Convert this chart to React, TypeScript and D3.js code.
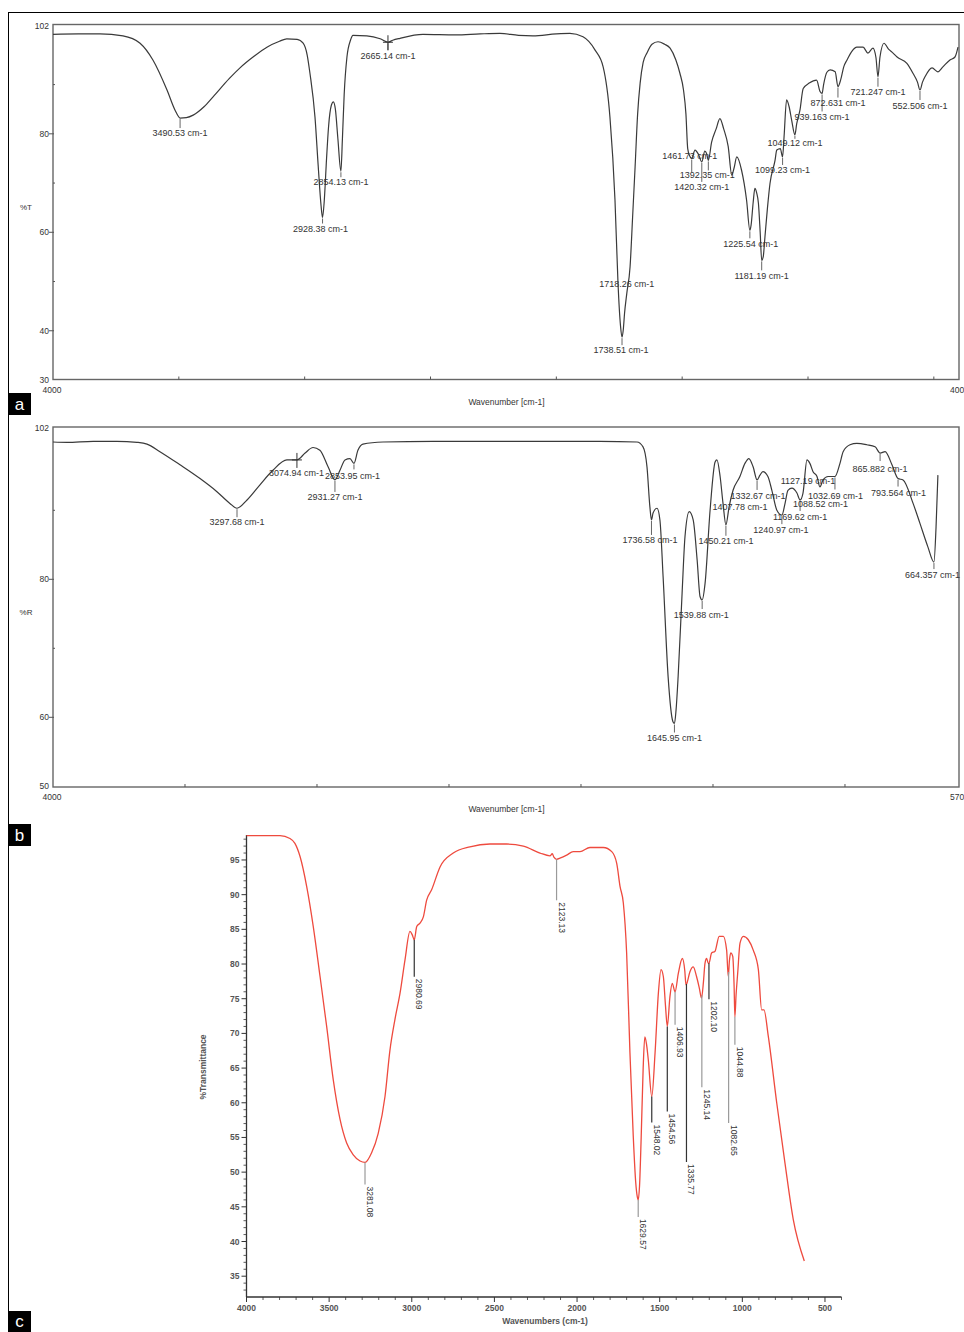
import React from 'react';
import * as d3 from 'd3';

// ---------- data: [wavenumber cm-1, %] ----------
const SPEC_A: [number, number][] = [
  [4000,100.2],[3900,100.3],[3813,100.3],[3722,99.9],[3654,98.4],[3603,95.0],[3547,88.9],[3515,84.8],[3495,83.2],[3470,83.3],
  [3443,83.8],[3400,85.5],[3364,87.5],[3300,91.2],[3257,93.4],[3200,95.8],[3150,97.6],[3100,98.8],[3071,99.3],[3030,99.2],
  [3006,98.4],[2990,96.0],[2979,92.3],[2959,83.4],[2946,73.3],[2935,65.5],[2929,63.0],[2922,66.5],[2913,75.0],[2905,81.5],
  [2894,85.8],[2886,86.5],[2878,85.0],[2868,79.0],[2856,72.4],[2850,79.0],[2843,88.0],[2832,95.6],[2818,99.0],[2808,100.0],
  [2753,99.9],[2700,99.3],[2669,98.6],[2650,99.0],[2621,99.4],[2530,100.2],[2400,100.1],[2303,100.3],[2224,100.4],[2150,100.0],
  [2093,99.9],[2000,100.3],[1946,100.4],[1894,99.7],[1846,97.0],[1814,93.6],[1787,83.4],[1767,66.6],[1755,49.7],[1745,41.0],
  [1739,38.7],[1734,40.2],[1729,43.5],[1720,47.6],[1707,53.0],[1697,63.0],[1687,73.3],[1677,84.0],[1667,90.3],[1655,94.5],
  [1640,96.4],[1620,98.2],[1596,98.7],[1570,98.2],[1548,97.4],[1525,95.0],[1509,92.3],[1495,89.0],[1485,84.0],[1478,77.0],
  [1470,75.5],[1462,75.0],[1449,76.7],[1435,75.8],[1422,74.3],[1410,76.5],[1403,76.0],[1396,74.6],[1383,78.3],[1365,81.0],
  [1350,83.1],[1335,81.0],[1317,77.4],[1303,71.6],[1294,73.0],[1283,75.3],[1264,72.6],[1244,66.5],[1231,60.4],[1226,61.5],
  [1218,66.0],[1211,68.9],[1204,68.0],[1197,65.9],[1190,60.0],[1184,54.3],[1178,55.0],[1171,59.1],[1161,65.0],[1151,69.9],
  [1131,74.6],[1124,76.7],[1110,77.0],[1101,75.3],[1095,79.5],[1085,86.9],[1075,85.5],[1065,82.8],[1052,79.8],[1045,82.0],
  [1032,84.8],[1019,89.2],[995,90.3],[966,90.9],[952,88.6],[944,88.2],[938,90.0],[925,92.5],[912,93.0],[892,92.6],
  [881,89.6],[870,91.0],[858,93.6],[845,95.0],[825,96.8],[806,97.6],[781,97.6],[762,96.4],[742,97.4],[730,95.5],
  [722,91.6],[714,95.6],[698,98.4],[680,97.2],[662,96.4],[646,95.6],[607,94.3],[583,92.3],[565,90.5],[555,88.9],
  [545,90.5],[535,91.6],[507,93.4],[484,92.6],[464,93.6],[436,95.0],[416,95.6],[404,97.6]
];

const SPEC_B: [number, number][] = [
  [4000,99.9],[3947,99.85],[3848,100],[3758,100],[3682,99.85],[3644,99.6],[3595,98.5],[3519,96.6],[3443,94.6],[3379,92.7],
  [3330,91.0],[3303,90.3],[3265,91.5],[3216,93.7],[3167,95.8],[3114,97.3],[3076,97.3],[3045,98.3],[3015,99.1],[2989,98.7],
  [2958,96.3],[2932,94.4],[2913,95.8],[2894,97.3],[2875,97.5],[2860,96.8],[2845,98.7],[2826,99.6],[2750,99.9],[2560,100],
  [2383,100],[1928,100],[1788,99.9],[1765,99.2],[1750,96.3],[1739,90.5],[1733,88.6],[1727,89.6],[1712,90.3],[1701,88.6],
  [1689,80.4],[1670,65.9],[1652,59.4],[1646,59.1],[1640,61.0],[1632,65.9],[1617,78.0],[1606,86.2],[1590,89.8],[1575,88.6],
  [1560,82.8],[1549,77.5],[1541,77.0],[1530,79.4],[1511,90.0],[1492,97.0],[1485,97.3],[1473,94.9],[1462,91.0],[1451,87.9],
  [1439,90.5],[1424,92.9],[1398,94.9],[1379,96.8],[1364,97.5],[1348,96.3],[1333,94.4],[1322,95.1],[1311,95.6],[1292,94.9],
  [1277,92.9],[1258,90.0],[1239,89.3],[1227,91.0],[1216,92.9],[1201,93.2],[1182,92.5],[1170,91.5],[1159,92.5],[1144,97.3],
  [1133,96.8],[1121,95.6],[1106,94.9],[1095,93.4],[1083,94.4],[1064,94.9],[1038,94.9],[1019,96.8],[1007,98.5],[981,99.5],
  [955,99.7],[917,99.5],[886,99.2],[867,98.3],[848,98.5],[822,96.6],[799,94.6],[780,94.4],[742,91.0],[716,88.1],
  [686,84.7],[663,82.5],[655,87.6],[648,95.1]
];

const SPEC_C: [number, number][] = [
  [4000,98.5],[3900,98.5],[3797,98.5],[3737,98.1],[3707,97.4],[3676,95.5],[3636,91.2],[3596,85.4],[3555,78.2],[3515,71.0],
  [3475,63.3],[3434,57.6],[3394,54.2],[3354,52.5],[3313,51.6],[3283,51.4],[3243,52.8],[3203,55.6],[3162,60.9],[3132,67.6],
  [3102,72.0],[3071,75.8],[3041,80.6],[3011,84.7],[2997,84.2],[2985,83.5],[2970,85.4],[2950,85.9],[2930,86.8],[2910,89.2],
  [2880,90.7],[2829,94.0],[2749,96.0],[2648,96.9],[2527,97.3],[2426,97.3],[2325,97.0],[2224,96.0],[2164,95.6],[2150,95.9],
  [2140,95.4],[2124,95.1],[2100,95.3],[2063,95.7],[2023,96.2],[1982,96.2],[1922,96.8],[1841,96.8],[1790,96.2],[1760,94.5],
  [1740,91.2],[1720,88.8],[1700,81.6],[1680,67.2],[1660,55.2],[1645,48.5],[1636,46.5],[1630,46.0],[1622,48.0],[1612,55.0],
  [1600,65.0],[1590,69.5],[1580,68.5],[1569,66.2],[1548,60.9],[1528,67.2],[1508,75.8],[1492,79.2],[1478,78.2],[1465,74.0],
  [1454,71.0],[1438,75.3],[1424,77.2],[1407,76.0],[1387,78.7],[1363,80.8],[1348,79.0],[1341,77.0],[1336,77.2],[1317,78.9],
  [1297,79.6],[1277,78.2],[1260,76.5],[1247,75.1],[1235,77.5],[1226,80.1],[1216,80.8],[1206,80.1],[1202,80.1],[1186,81.6],
  [1166,81.8],[1140,84.0],[1115,84.0],[1095,82.0],[1085,78.2],[1078,80.5],[1070,81.6],[1058,81.1],[1050,77.0],[1045,72.4],
  [1038,75.5],[1028,78.7],[1014,83.0],[994,84.0],[964,83.5],[934,82.0],[903,79.2],[883,73.4],[869,73.4],[843,69.6],
  [792,60.0],[742,51.3],[692,43.2],[625,37.2]
];

// peaks: [position wavenumber, label]
const PEAKS_A: [number, string][] = [
  [3495,'3490.53 cm-1'],[2856,'2854.13 cm-1'],[2929,'2928.38 cm-1'],[2669,'2665.14 cm-1'],[1720,'1718.26 cm-1'],
  [1739,'1738.51 cm-1'],[1462,'1461.73 cm-1'],[1396,'1392.35 cm-1'],[1422,'1420.32 cm-1'],[1231,'1225.54 cm-1'],
  [1184,'1181.19 cm-1'],[1101,'1099.23 cm-1'],[1052,'1049.12 cm-1'],[944,'939.163 cm-1'],[881,'872.631 cm-1'],
  [722,'721.247 cm-1'],[555,'552.506 cm-1']
];
const PEAKS_B: [number, string][] = [
  [3303,'3297.68 cm-1'],[3076,'3074.94 cm-1'],[2932,'2931.27 cm-1'],[2860,'2853.95 cm-1'],[1733,'1736.58 cm-1'],
  [1646,'1645.95 cm-1'],[1541,'1539.88 cm-1'],[1451,'1450.21 cm-1'],[1424,'1407.78 cm-1'],[1333,'1332.67 cm-1'],
  [1239,'1240.97 cm-1'],[1170,'1169.62 cm-1'],[1144,'1127.19 cm-1'],[1095,'1088.52 cm-1'],[1038,'1032.69 cm-1'],
  [867,'865.882 cm-1'],[799,'793.564 cm-1'],[663,'664.357 cm-1']
];
const PEAKS_C: [number, string][] = [
  [3283,'3281.08'],[2985,'2980.69'],[2124,'2123.13'],[1630,'1629.57'],[1548,'1548.02'],[1454,'1454.56'],
  [1407,'1406.93'],[1338,'1335.77'],[1245,'1245.14'],[1202,'1202.10'],[1083,'1082.65'],[1045,'1044.88']
];

// tick labels
const Y_LABELS_A = ['102', '80', '60', '40', '30'];
const Y_LABELS_B = ['102', '80', '60', '50'];
const Y_TICKS_C = [35, 40, 45, 50, 55, 60, 65, 70, 75, 80, 85, 90, 95];
const X_TICKS_C = [4000, 3500, 3000, 2500, 2000, 1500, 1000, 500];

// ---------- layout (label offsets in px: dx, dy, leader length, cross marker) ----------
const LAYOUT_A: [number, number, number, number][] = [
  [0,15,10,0],[0,11,6,0],[-2,11.5,6,0],[0,14,8,1],[0,-9,0,0],
  [-1,13,8,0],[-2,-2,14,0],[-1,14.6,10,0],[0,25,20,0],[1,13.5,8,0],
  [0,15.6,10,0],[0,13,8,0],[0,8,4,0],[0,23.5,18,0],[0,16.5,11,0],
  [0,15,10,0],[0,15.6,10,0]
];
const LAYOUT_B: [number, number, number, number][] = [
  [0,14,9,0],[-0.5,13,0,1],[0,17,12,0],[-1.5,12.6,6,0],[-1.5,20,15,0],
  [0,14.5,9,0],[-1,15,9,0],[0,16,11,0],[7,16.4,0,0],[1,16,10,0],
  [-1,15,9,0],[0,17,11,0],[1,21,0,0],[0.5,17.5,0,0],[0.5,19.5,13,0],
  [0,16,8,0],[0.5,14.5,8,0],[-1.5,13,7,0]
];
const LAYOUT_C: [number, number][] = [
  [22,0],[37,1],[41,0],[17,0],[26,1],[85,1],[33,0],[178,1],[92,0],[36,1],[151,0],[28,0]
];

const SANS = "'Liberation Sans', Arial, Helvetica, sans-serif";

function interp(spec: [number, number][], wn: number): number {
  for (let i = 0; i < spec.length - 1; i++) {
    const [w0, v0] = spec[i];
    const [w1, v1] = spec[i + 1];
    if (wn <= w0 && wn >= w1) return v0 + ((v1 - v0) * (wn - w0)) / (w1 - w0);
  }
  return spec[spec.length - 1][1];
}

type IRProps = {
  spec: [number, number][];
  peaks: [number, string][];
  layout: [number, number, number, number][];
  xDomain: [number, number];
  xRange: [number, number];
  yDomain: [number, number];
  yRange: [number, number];
  box: [number, number, number, number];
  yLabels: string[];
  yMajor: number[];
  yMinor: number[];
  xTicks: number[];
  yTitle: string;
  xStart: string;
  xEnd: string;
};

function IRPanel(p: IRProps) {
  const x = d3.scaleLinear().domain(p.xDomain).range(p.xRange);
  const y = d3.scaleLinear().domain(p.yDomain).range(p.yRange);
  const line = d3
    .line<[number, number]>()
    .x((d) => x(d[0]))
    .y((d) => y(d[1]))
    .curve(d3.curveMonotoneX);
  const [bx0, by0, bx1, by1] = p.box;
  const labelVals = p.yLabels.map(Number);
  const midX = (bx0 + bx1) / 2 + 0.5;
  return (
    <g fontFamily={SANS}>
      <rect x={bx0} y={by0} width={bx1 - bx0} height={by1 - by0} fill="none" stroke="#666" strokeWidth={1.4} />
      {labelVals.map((v, i) => (
        <text key={'yl' + i} x={bx0 - 4} y={y(v)} fontSize={8.5} fill="#333" textAnchor="end" dominantBaseline="central">
          {p.yLabels[i]}
        </text>
      ))}
      {p.yMajor.map((v) => (
        <line key={'ym' + v} x1={bx0 - 4} x2={bx0 + 1} y1={y(v)} y2={y(v)} stroke="#555" strokeWidth={1} />
      ))}
      {p.yMinor.map((v) => (
        <line key={'yn' + v} x1={bx0} x2={bx0 + 2} y1={y(v)} y2={y(v)} stroke="#555" strokeWidth={1} />
      ))}
      {p.xTicks.map((t) => (
        <line key={'xt' + t} x1={x(t)} x2={x(t)} y1={by1} y2={by1 - 3} stroke="#555" strokeWidth={1} />
      ))}
      <text x={bx0 - 1} y={by1 + 10} fontSize={8.5} fill="#333" textAnchor="middle" dominantBaseline="central">
        {p.xStart}
      </text>
      <text x={bx1 - 9} y={by1 + 10} fontSize={8.5} fill="#333" textAnchor="start" dominantBaseline="central">
        {p.xEnd}
      </text>
      <text x={26} y={(by0 + by1) / 2 + 5} fontSize={8} fill="#333" textAnchor="middle" dominantBaseline="central">
        {p.yTitle}
      </text>
      <text x={midX} y={by1 + 22} fontSize={8.5} fill="#333" textAnchor="middle" dominantBaseline="central">
        Wavenumber [cm-1]
      </text>
      <path d={line(p.spec) || ''} fill="none" stroke="#3a3a3a" strokeWidth={1.2} strokeLinejoin="round" />
      {p.peaks.map(([wn, label], i) => {
        const [dx, dy, lead, cross] = p.layout[i];
        const px = x(wn);
        const py = y(interp(p.spec, wn));
        return (
          <g key={'pk' + i}>
            {lead > 0 && <line x1={px} x2={px} y1={py + 1} y2={py + lead} stroke="#555" strokeWidth={0.9} />}
            {cross === 1 && (
              <g stroke="#333" strokeWidth={1}>
                <line x1={px} x2={px} y1={py - 7} y2={py + 8} />
                <line x1={px - 5} x2={px + 5} y1={py} y2={py} />
              </g>
            )}
            <text x={px + dx} y={py + dy} fontSize={9} fill="#333" textAnchor="middle" dominantBaseline="central">
              {label}
            </text>
          </g>
        );
      })}
    </g>
  );
}

function PanelC() {
  const x = d3.scaleLinear().domain([4000, 400]).range([246.5, 841.5]);
  const y = d3.scaleLinear().domain([32, 98.6]).range([1297, 835]);
  const line = d3
    .line<[number, number]>()
    .x((d) => x(d[0]))
    .y((d) => y(d[1]))
    .curve(d3.curveMonotoneX);
  const yMinor = d3.range(33, 99, 1).filter((v) => v % 5 !== 0);
  const xMinor = d3.range(400, 4001, 100).filter((v) => v % 500 !== 0);
  const axisColor = '#333';
  return (
    <g fontFamily={SANS}>
      <line x1={x(4000)} x2={x(4000)} y1={y(98.6)} y2={y(32)} stroke={axisColor} strokeWidth={1.3} />
      <line x1={x(4000)} x2={x(400)} y1={y(32)} y2={y(32)} stroke={axisColor} strokeWidth={1.3} />
      {Y_TICKS_C.map((v) => (
        <g key={'cy' + v}>
          <line x1={x(4000) - 5} x2={x(4000)} y1={y(v)} y2={y(v)} stroke={axisColor} strokeWidth={1} />
          <text x={x(4000) - 7} y={y(v)} fontSize={8.5} fill="#555" fontWeight={600} textAnchor="end" dominantBaseline="central">
            {v}
          </text>
        </g>
      ))}
      {yMinor.map((v) => (
        <line key={'cym' + v} x1={x(4000) - 3} x2={x(4000)} y1={y(v)} y2={y(v)} stroke={axisColor} strokeWidth={0.8} />
      ))}
      {X_TICKS_C.map((t) => (
        <g key={'cx' + t}>
          <line x1={x(t)} x2={x(t)} y1={y(32)} y2={y(32) + 5} stroke={axisColor} strokeWidth={1} />
          <text x={x(t)} y={y(32) + 11} fontSize={8.5} fill="#555" fontWeight={600} textAnchor="middle" dominantBaseline="central">
            {t}
          </text>
        </g>
      ))}
      {xMinor.map((t) => (
        <line key={'cxm' + t} x1={x(t)} x2={x(t)} y1={y(32)} y2={y(32) + 3} stroke={axisColor} strokeWidth={0.8} />
      ))}
      <text x={545} y={1321} fontSize={8.5} fill="#555" fontWeight={600} textAnchor="middle" dominantBaseline="central">
        Wavenumbers (cm-1)
      </text>
      <text
        transform={`translate(203,1067) rotate(-90)`}
        fontSize={8.5}
        fill="#555"
        fontWeight={600}
        textAnchor="middle"
        dominantBaseline="central"
      >
        %Transmittance
      </text>
      <path d={line(SPEC_C) || ''} fill="none" stroke="#ee4a3e" strokeWidth={1.3} strokeLinejoin="round" />
      {PEAKS_C.map(([wn, label], i) => {
        const [lead, dark] = LAYOUT_C[i];
        const px = x(wn);
        const py = y(interp(SPEC_C, wn));
        return (
          <g key={'cp' + i}>
            <line x1={px} x2={px} y1={py} y2={py + lead} stroke={dark ? '#333' : '#9a9a9a'} strokeWidth={1.2} />
            <text
              transform={`translate(${px + 5},${py + lead + 2}) rotate(90)`}
              fontSize={8.5}
              fill="#333"
              textAnchor="start"
              dominantBaseline="central"
            >
              {label}
            </text>
          </g>
        );
      })}
    </g>
  );
}

function PanelTag({ y, letter, h = 22 }: { y: number; letter: string; h?: number }) {
  return (
    <g>
      <rect x={8} y={y} width={23} height={h} fill="#000" />
      <text x={19.5} y={y + h / 2} fontSize={17} fill="#fff" fontFamily={SANS} textAnchor="middle" dominantBaseline="central">
        {letter}
      </text>
    </g>
  );
}

export default function App() {
  return (
    <svg
      width={964}
      height={1332}
      viewBox="0 0 964 1332"
      style={{ position: 'absolute', left: 0, top: 0, background: '#fff' }}
    >
      <rect x={0} y={0} width={964} height={1332} fill="#fff" />
      <line x1={8} x2={964} y1={12.5} y2={12.5} stroke="#000" strokeWidth={1} />
      <line x1={8.5} x2={8.5} y1={12} y2={1332} stroke="#000" strokeWidth={1} />
      <IRPanel
        spec={SPEC_A}
        peaks={PEAKS_A}
        layout={LAYOUT_A}
        xDomain={[4000, 400]}
        xRange={[53, 959]}
        yDomain={[30, 102]}
        yRange={[380, 25.5]}
        box={[53, 24.5, 959, 379.5]}
        yLabels={Y_LABELS_A}
        yMajor={[80, 60, 40]}
        yMinor={[90, 70, 50]}
        xTicks={[3500, 3000, 2500, 2000, 1500, 1000, 500]}
        yTitle="%T"
        xStart="4000"
        xEnd="400"
      />
      <IRPanel
        spec={SPEC_B}
        peaks={PEAKS_B}
        layout={LAYOUT_B}
        xDomain={[4000, 570]}
        xRange={[53, 958.5]}
        yDomain={[50, 102]}
        yRange={[786.3, 427.5]}
        box={[53, 427, 959, 787]}
        yLabels={Y_LABELS_B}
        yMajor={[80, 60]}
        yMinor={[90, 70]}
        xTicks={[3500, 3000, 2500, 2000, 1500, 1000]}
        yTitle="%R"
        xStart="4000"
        xEnd="570"
      />
      <PanelC />
      <PanelTag y={393} letter="a" />
      <PanelTag y={824} letter="b" />
      <PanelTag y={1311} letter="c" h={21} />
    </svg>
  );
}
